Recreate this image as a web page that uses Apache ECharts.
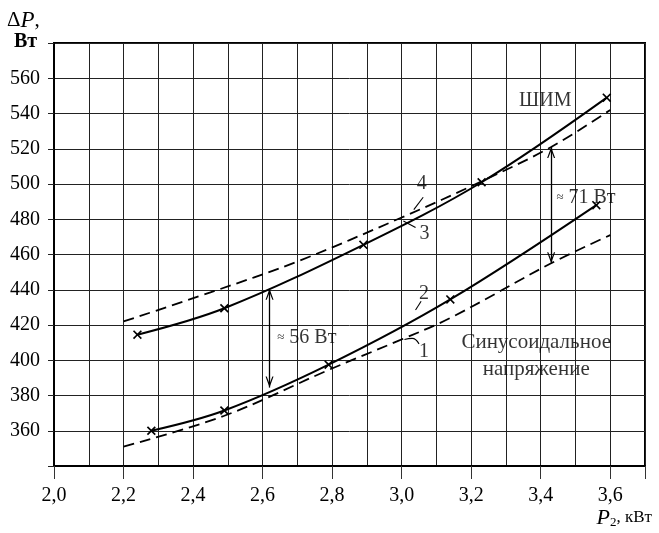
<!DOCTYPE html>
<html><head><meta charset="utf-8">
<script src="https://cdn.jsdelivr.net/npm/echarts@6/dist/echarts.min.js"></script>
<style>html,body{margin:0;padding:0;background:#fff}#c{width:659px;height:533px}</style>
</head><body><div id="c"></div>
<script>
const FONT = '"Liberation Serif","Times New Roman",serif';

// Curve 1: sinusoidal voltage, calculated (dashed)
const sinCalc = [[2.2,351],[2.49,368.5],[2.79,394.5],[2.99,411],[3.14,424],[3.43,455],[3.6,471]];
// Curve 2: sinusoidal voltage, measured (solid, crosses)
const sinMeas = [[2.28,360],[2.49,371.5],[2.79,397.5],[3.14,434.5],[3.56,488]];
// Curve 3: PWM (ШИМ), measured (solid, crosses)
const pwmMeas = [[2.24,414.5],[2.49,429.5],[2.89,465.5],[3.23,501],[3.59,549]];
// Curve 4: PWM (ШИМ), calculated (dashed)
const pwmCalc = [[2.2,422],[2.45,438.5],[2.7,456],[3.0,481],[3.23,501.5],[3.43,521],[3.6,542]];

// Tick labels
const xTickValues = [2.0,2.2,2.4,2.6,2.8,3.0,3.2,3.4,3.6];
const xTickLabels = ['2,0','2,2','2,4','2,6','2,8','3,0','3,2','3,4','3,6'];
const yTickValues = [360,380,400,420,440,460,480,500,520,540,560];
const yTickLabels = ['360','380','400','420','440','460','480','500','520','540','560'];

// Difference arrows
const arrow56 = [[2.62,384.5],[2.62,440.5]];
const arrow71 = [[3.43,455],[3.43,521]];

// Annotations
const annoText = ['ШИМ','Синусоидальное\nнапряжение','{s|≈} 71 Вт','{s|≈} 56 Вт','1','2','3','4'];
const annoPos = [[3.413,547],[3.387,402.5],[3.445,492.4],[2.642,413],[3.064,405],[3.064,438],[3.066,472],[3.058,500.3]];
const annoAlign = ['center','center','left','left','center','center','center','center'];
const annoSize = [20,21,20,20,20,20,20,20];

// Leader lines for curve numbers
const leader1 = [[3.008,411.8],[3.03,412.4],[3.05,409.3]];
const leader2 = [[3.04,428.5],[3.056,433.5]];
const leader3 = [[3.005,479],[3.04,475.3]];
const leader4 = [[3.035,485.5],[3.062,492.5]];

const XSYM = 'path://M0,1.3L1.3,0L5,3.7L8.7,0L10,1.3L6.3,5L10,8.7L8.7,10L5,6.3L1.3,10L0,8.7L3.7,5Z';
const CHEV = 'path://M5,0L10,10L8.5,10L5,3.4L1.5,10L0,10Z';

function fmtX(v){
  for (let i=0;i<xTickValues.length;i++) if (Math.abs(v-xTickValues[i])<1e-6) return xTickLabels[i];
  return '';
}
function fmtY(v){
  for (let i=0;i<yTickValues.length;i++) if (Math.abs(v-yTickValues[i])<1e-6) return yTickLabels[i];
  return '';
}

const chart = echarts.init(document.getElementById('c'), null, {renderer:'canvas'});

const annoData = annoText.map((t,i)=>({
  value: annoPos[i],
  label: {
    show: true,
    formatter: t,
    position: annoAlign[i]==='left' ? 'right' : 'inside',
    distance: 0,
    align: annoAlign[i]==='left' ? 'left' : 'center',
    verticalAlign: 'middle',
    fontFamily: FONT,
    fontSize: annoSize[i],
    lineHeight: 27,
    color: '#000',
    rich: { s: { fontFamily: FONT, fontSize: 13, color:'#000' } }
  }
}));

function leaderSeries(d){
  return { type:'line', data:d, smooth:0.5, symbol:'none', silent:true,
    lineStyle:{color:'#000', width:1.1}, z:4 };
}

const option = {
  animation: false,
  backgroundColor: '#fff',
  grid: { left:54, right:14, top:43, bottom:67, show:true, borderColor:'#000', borderWidth:2, containLabel:false },
  xAxis: {
    type:'value', min:2.0, max:3.7, interval:0.2,
    axisLine:{ show:true, lineStyle:{color:'#000', width:2} },
    axisTick:{ show:true, length:13, lineStyle:{color:'#333', width:1} },
    axisLabel:{ formatter:fmtX, color:'#000', fontFamily:FONT, fontSize:20, margin:20 },
    splitLine:{ show:true, lineStyle:{color:'#222', width:1} },
    minorTick:{ show:false, splitNumber:2 },
    minorSplitLine:{ show:true, lineStyle:{color:'#222', width:1} }
  },
  yAxis: {
    type:'value', min:340, max:580, interval:20,
    axisLine:{ show:true, lineStyle:{color:'#000', width:2} },
    axisTick:{ show:true, length:6, lineStyle:{color:'#222', width:1} },
    axisLabel:{ formatter:fmtY, color:'#000', fontFamily:FONT, fontSize:20, margin:14 },
    splitLine:{ show:true, lineStyle:{color:'#222', width:1} }
  },
  graphic: [
    { type:'text', left:7, top:9, style:{ text:'{a|Δ}{b|P},', fill:'#000', font:'21px '+FONT,
      rich:{ a:{fontFamily:FONT, fontSize:21, fill:'#000'}, b:{fontFamily:FONT, fontSize:23, fontStyle:'italic', fill:'#000'} } } },
    { type:'text', left:14, top:32, style:{ text:'Вт', fill:'#000', font:'bold 20px '+FONT } },
    { type:'text', right:7, top:507, style:{ text:'{p|P}{s|2}{u|, кВт}', fill:'#000', font:'20px '+FONT,
      rich:{ p:{fontFamily:FONT, fontSize:22, fontStyle:'italic', fill:'#000'},
             s:{fontFamily:FONT, fontSize:13, fill:'#000', verticalAlign:'bottom'},
             u:{fontFamily:FONT, fontSize:17, fill:'#000'} } } }
  ],
  series: [
    { name:'1', type:'line', data:sinCalc, smooth:0.35, symbol:'none', silent:true,
      lineStyle:{color:'#000', width:1.8, type:[11,6]}, z:3 },
    { name:'2', type:'line', data:sinMeas, smooth:0.35, symbol:XSYM, symbolSize:9, showAllSymbol:true, silent:true,
      itemStyle:{color:'#000'}, lineStyle:{color:'#000', width:2}, z:3,
      markLine:{ silent:true, symbol:[CHEV,CHEV], symbolSize:[8,11], symbolOffset:[[0,5.5],[0,5.5]],
        label:{show:false}, lineStyle:{color:'#000', width:1.3, type:'solid'}, emphasis:{disabled:true},
        data:[ [{coord:arrow56[0]},{coord:arrow56[1]}], [{coord:arrow71[0]},{coord:arrow71[1]}] ] } },
    { name:'3', type:'line', data:pwmMeas, smooth:0.35, symbol:XSYM, symbolSize:9, showAllSymbol:true, silent:true,
      itemStyle:{color:'#000'}, lineStyle:{color:'#000', width:2}, z:3 },
    { name:'4', type:'line', data:pwmCalc, smooth:0.35, symbol:'none', silent:true,
      lineStyle:{color:'#000', width:1.8, type:[11,6]}, z:3 },
    leaderSeries(leader1), leaderSeries(leader2), leaderSeries(leader3), leaderSeries(leader4),
    { name:'labels', type:'scatter', data:annoData, symbolSize:0.1, silent:true,
      itemStyle:{color:'rgba(0,0,0,0)'}, z:6 }
  ]
};
chart.setOption(option);
</script></body></html>
